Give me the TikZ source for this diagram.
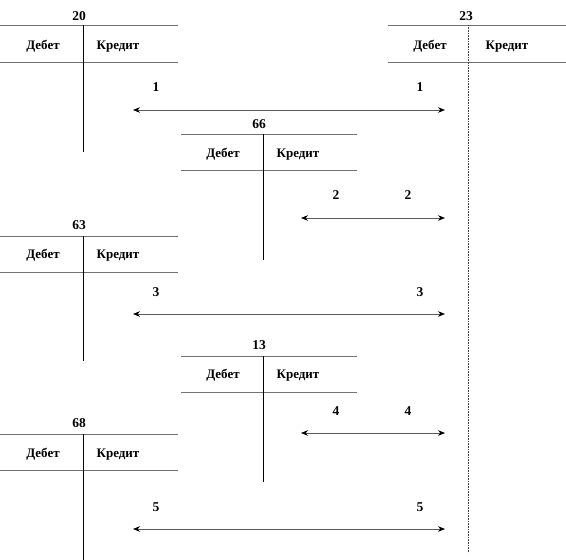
\documentclass[tikz,border=0pt]{standalone}
\usepackage{fontspec}
\setmainfont{Liberation Serif}
\usetikzlibrary{arrows.meta}

\tikzset{
  acctitle/.style={font=\fontsize{13.5}{15}\selectfont\bfseries, inner sep=1pt},
  acchead/.style={font=\fontsize{13}{15}\selectfont\bfseries, inner sep=1pt,
    text height=1.6ex, text depth=0.5ex},
  entry/.style={font=\fontsize{13.5}{15}\selectfont\bfseries, inner sep=1pt},
  rule/.style={black!55, line width=0.6pt},
  bar/.style={black, line width=0.7pt},
  flow/.style={<->, black!65, line width=0.6pt},
}

\begin{document}
\begin{tikzpicture}[x=1pt, y=-1pt, >={Stealth[length=7pt, width=5.5pt, color=black]}]

\useasboundingbox (0,0) rectangle (566,560);

% --- Account 20 ---
\node[acctitle] (t20) at (79,16) {20};
\draw[rule] (0,25) -- (178,25);
\node[acchead] (d20) at (43,47) {Дебет};
\node[acchead] (k20) at (118,47) {Кредит};
\draw[rule] (0,62) -- (178,62);
\draw[bar] (83,25) -- (83,152);

% --- Account 23 ---
\node[acctitle] (t23) at (466,16) {23};
\draw[rule] (388,25) -- (566,25);
\node[acchead] (d23) at (430,47) {Дебет};
\node[acchead] (k23) at (507,47) {Кредит};
\draw[rule] (388,62) -- (566,62);
\draw[black!70, line width=0.6pt, densely dotted] (468,25) -- (468,553);

% --- Account 66 ---
\node[acctitle] (t66) at (259,124) {66};
\draw[rule] (181,134) -- (357,134);
\node[acchead] (d66) at (223,155) {Дебет};
\node[acchead] (k66) at (298,155) {Кредит};
\draw[rule] (181,170) -- (357,170);
\draw[bar] (263,134) -- (263,260);

% --- Account 63 ---
\node[acctitle] (t63) at (79,225) {63};
\draw[rule] (0,236) -- (178,236);
\node[acchead] (d63) at (43,256) {Дебет};
\node[acchead] (k63) at (118,256) {Кредит};
\draw[rule] (0,272) -- (178,272);
\draw[bar] (83,236) -- (83,361);

% --- Account 13 ---
\node[acctitle] (t13) at (259,345) {13};
\draw[rule] (181,356) -- (357,356);
\node[acchead] (d13) at (223,376) {Дебет};
\node[acchead] (k13) at (298,376) {Кредит};
\draw[rule] (181,392) -- (357,392);
\draw[bar] (263,356) -- (263,482);

% --- Account 68 ---
\node[acctitle] (t68) at (79,423) {68};
\draw[rule] (0,434) -- (178,434);
\node[acchead] (d68) at (43,455) {Дебет};
\node[acchead] (k68) at (118,455) {Кредит};
\draw[rule] (0,470) -- (178,470);
\draw[bar] (83,434) -- (83,560);

% --- Entries ---
\coordinate (e1a) at (133,110);  \coordinate (e1b) at (445,110);
\coordinate (e2a) at (301,218);  \coordinate (e2b) at (445,218);
\coordinate (e3a) at (133,314);  \coordinate (e3b) at (445,314);
\coordinate (e4a) at (301,433);  \coordinate (e4b) at (445,433);
\coordinate (e5a) at (133,529);  \coordinate (e5b) at (445,529);

\draw[flow] (e1a) -- (e1b);
\draw[flow] (e2a) -- (e2b);
\draw[flow] (e3a) -- (e3b);
\draw[flow] (e4a) -- (e4b);
\draw[flow] (e5a) -- (e5b);

\node[entry] (n1a) at (156,87) {1};
\node[entry] (n1b) at (420,87) {1};
\node[entry] (n2a) at (336,195) {2};
\node[entry] (n2b) at (408,195) {2};
\node[entry] (n3a) at (156,292) {3};
\node[entry] (n3b) at (420,292) {3};
\node[entry] (n4a) at (336,411) {4};
\node[entry] (n4b) at (408,411) {4};
\node[entry] (n5a) at (156,507) {5};
\node[entry] (n5b) at (420,507) {5};

\end{tikzpicture}
\end{document}
